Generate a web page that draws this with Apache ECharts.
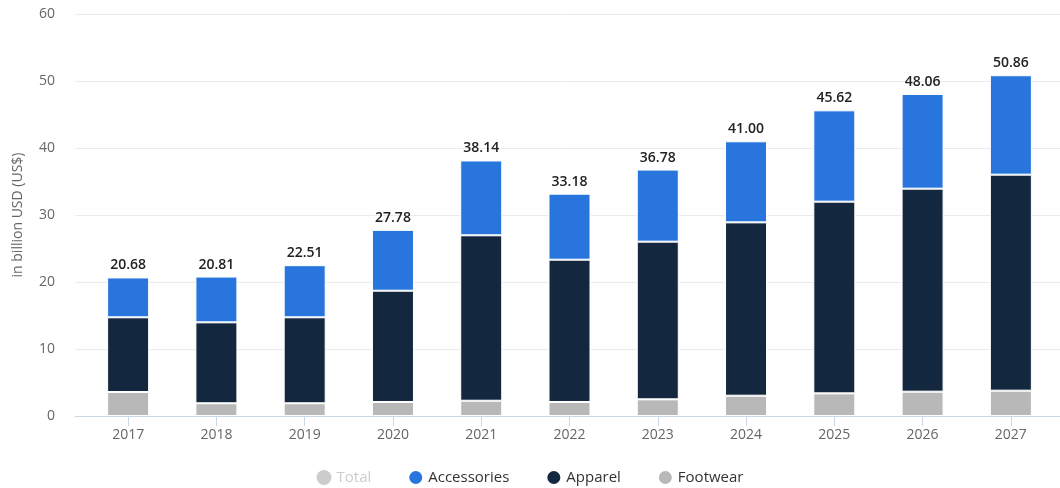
<!DOCTYPE html>
<html>
<head>
<meta charset="utf-8">
<script src="https://cdn.jsdelivr.net/npm/echarts@6/dist/echarts.min.js"></script>
<style>
  html, body { margin: 0; padding: 0; background: #fff; }
  #chart { width: 1060px; height: 488px; }
</style>
</head>
<body>
<div id="chart"></div>
<script>
// Revenue by segment, in billion USD
const years = ['2017', '2018', '2019', '2020', '2021', '2022', '2023', '2024', '2025', '2026', '2027'];
const totals = [20.68, 20.81, 22.51, 27.78, 38.14, 33.18, 36.78, 41.00, 45.62, 48.06, 50.86];
const footwear = [3.58, 1.90, 1.90, 2.09, 2.28, 2.09, 2.49, 3.03, 3.38, 3.63, 3.78];
const apparel = [11.15, 12.08, 12.83, 16.61, 24.69, 21.24, 23.53, 25.87, 28.61, 30.30, 32.24];
const accessories = [5.95, 6.83, 7.78, 9.08, 11.17, 9.85, 10.76, 12.10, 13.63, 14.13, 14.84];
const yTicks = [0, 10, 20, 30, 40, 50, 60];

const FONT = '"Open Sans", "Noto Sans", sans-serif';
const chart = echarts.init(document.getElementById('chart'), null, { renderer: 'canvas' });

const barCommon = {
  type: 'bar',
  stack: 'total',
  barWidth: 42,
  xAxisIndex: 0,
  yAxisIndex: 0,
  itemStyle: { borderColor: '#ffffff', borderWidth: 1 }
};

chart.setOption({
  animation: false,
  backgroundColor: '#ffffff',
  textStyle: { fontFamily: FONT },
  grid: [
    { left: 84, right: 5, top: 14, bottom: 72 },
    { left: 75, right: 0, top: 14, bottom: 72 }
  ],
  legend: {
    bottom: -3,
    left: 'center',
    icon: 'circle',
    itemWidth: 15,
    itemHeight: 15,
    itemGap: 36,
    textStyle: { fontSize: 15, color: '#333333', fontFamily: FONT },
    inactiveColor: '#cccccc',
    data: ['Total', 'Accessories', 'Apparel', 'Footwear'],
    selected: { Total: false }
  },
  xAxis: [
    {
      type: 'category',
      gridIndex: 0,
      data: years,
      axisLine: { show: false },
      axisTick: { show: true, alignWithLabel: true, length: 10, lineStyle: { color: '#ccd6eb' } },
      axisLabel: { color: '#666666', fontSize: 14, margin: 12, fontFamily: FONT },
      splitLine: { show: false }
    },
    {
      type: 'value',
      gridIndex: 1,
      min: 0,
      max: 1,
      axisLine: { show: true, onZero: false, lineStyle: { color: '#ccd6eb' } },
      axisTick: { show: false },
      axisLabel: { show: false },
      splitLine: { show: false }
    }
  ],
  yAxis: [
    {
      type: 'value',
      gridIndex: 0,
      min: 0,
      max: 60,
      interval: 10,
      axisLine: { show: false },
      axisTick: { show: false },
      axisLabel: { show: false },
      splitLine: { show: false }
    },
    {
      type: 'value',
      gridIndex: 1,
      min: yTicks[0],
      max: yTicks[yTicks.length - 1],
      interval: 10,
      name: 'in billion USD (US$)',
      nameLocation: 'middle',
      nameGap: 50,
      nameRotate: 90,
      nameTextStyle: { color: '#666666', fontSize: 14, fontFamily: FONT },
      axisLine: { show: false },
      axisTick: { show: false },
      axisLabel: { color: '#666666', fontSize: 14, margin: 20, fontFamily: FONT },
      splitLine: { show: true, lineStyle: { color: '#ebebeb', width: 1 } }
    }
  ],
  series: [
    {
      name: 'Total',
      type: 'bar',
      xAxisIndex: 0,
      yAxisIndex: 0,
      barGap: '-100%',
      itemStyle: { color: '#cccccc' },
      data: totals
    },
    Object.assign({}, barCommon, {
      name: 'Footwear',
      z: 2,
      itemStyle: Object.assign({}, barCommon.itemStyle, { color: '#b8b8b8' }),
      data: footwear
    }),
    Object.assign({}, barCommon, {
      name: 'Apparel',
      z: 2,
      itemStyle: Object.assign({}, barCommon.itemStyle, { color: '#13283f' }),
      data: apparel
    }),
    Object.assign({}, barCommon, {
      name: 'Accessories',
      z: 2,
      itemStyle: Object.assign({}, barCommon.itemStyle, { color: '#2876dd' }),
      label: {
        show: true,
        position: 'top',
        distance: 5,
        color: '#222222',
        fontSize: 14,
        fontWeight: 600,
        fontFamily: FONT,
        formatter: p => totals[p.dataIndex].toFixed(2)
      },
      data: accessories
    })
  ]
});
</script>
</body>
</html>
